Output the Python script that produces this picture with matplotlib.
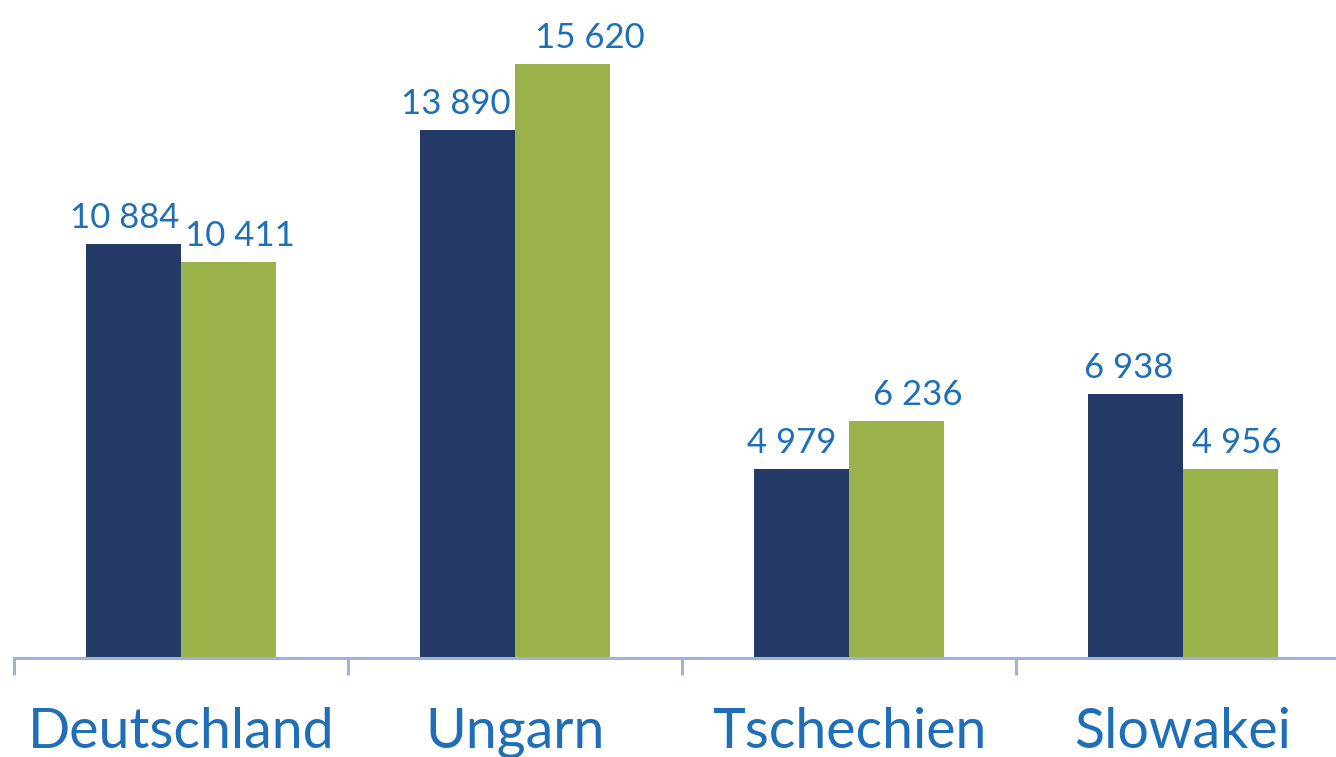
import numpy as np
import matplotlib.pyplot as plt

categories = ["Deutschland", "Ungarn", "Tschechien", "Slowakei"]
series_a = [10884, 13890, 4979, 6938]
series_b = [10411, 15620, 6236, 4956]

DARK = "#243A66"
GREEN = "#9BB24A"
TEXT = "#1F6FB8"
AXIS = "#9CB2D6"

# horizontal nudges of the value labels (pixels), as in the original layout
nudge_a = [-9, -12, -10, -7]
nudge_b = [11, 27, 21, 6]

W, H = 1336, 757
fig = plt.figure(figsize=(W / 100, H / 100), dpi=100)
ax = fig.add_axes([14 / W, (H - 658) / H, 1336 / W, 658 / H])

x = np.arange(len(categories))
bw = 95 / 334
ax.bar(x - bw / 2, series_a, width=bw, color=DARK, zorder=2)
ax.bar(x + bw / 2, series_b, width=bw, color=GREEN, zorder=2)

def fmt(v):
    return f"{v:,}".replace(",", " ")

px = 0.72  # pixels -> points at dpi 100
for xi, a, b, na, nb in zip(x, series_a, series_b, nudge_a, nudge_b):
    for xx, v, n in ((xi - bw / 2, a, na), (xi + bw / 2, b, nb)):
        ax.annotate(fmt(v), (xx, v), xytext=(n * px, 16 * px), textcoords="offset points",
                    ha="center", va="baseline", fontsize=25, color=TEXT, family="Lato")

ax.set_xlim(-0.5, 3.5)
ax.set_ylim(0, 658 / 0.03804)
for s in ["top", "right", "left"]:
    ax.spines[s].set_visible(False)
ax.spines["bottom"].set_color(AXIS)
ax.spines["bottom"].set_linewidth(2.2)
ax.set_yticks([])
ax.set_xticks(np.arange(-0.5, 4.0, 1.0))
ax.set_xticklabels([])
ax.tick_params(axis="x", length=12, width=2.2, color=AXIS)
for xi, c in zip(x, categories):
    ax.text(xi, -90 / 658, c, transform=ax.get_xaxis_transform(), ha="center", va="baseline",
            fontsize=40, color=TEXT, family="Lato")

fig.savefig("out.png", dpi=100)
